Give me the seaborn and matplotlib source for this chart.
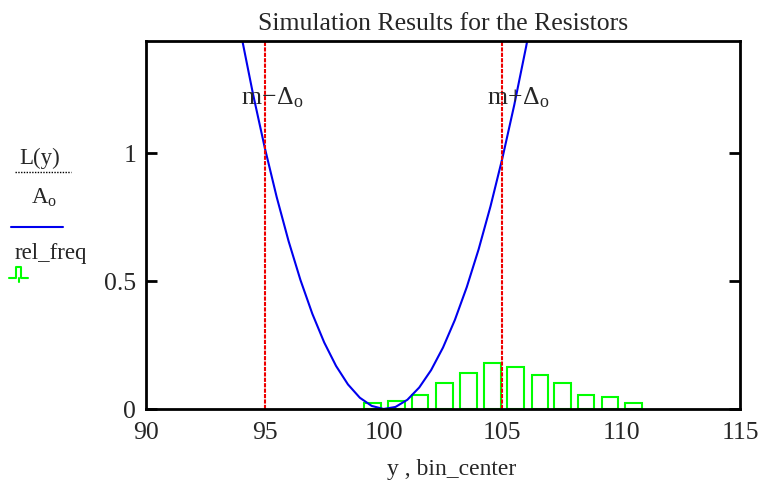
import matplotlib
matplotlib.use("Agg")
from matplotlib import pyplot as plt
from matplotlib.lines import Line2D
import numpy as np
import pandas as pd
import seaborn as sns

# curve L(y)/A_o
y_vals = [93.5, 94.0, 94.5, 95.0, 95.5, 96.0, 96.5, 97.0, 97.5, 98.0, 98.5, 99.0, 99.5,
          100.0, 100.5, 101.0, 101.5, 102.0, 102.5, 103.0, 103.5, 104.0, 104.5, 105.0,
          105.5, 106.0, 106.5]
L_over_A = [1.716, 1.464, 1.232, 1.020, 0.828, 0.656, 0.504, 0.372, 0.260, 0.168, 0.096,
            0.044, 0.012, 0.000, 0.008, 0.036, 0.084, 0.152, 0.240, 0.348, 0.476, 0.624,
            0.792, 0.980, 1.188, 1.416, 1.664]

# histogram of resistor values
bin_center = [99.54, 100.54, 101.53, 102.55, 103.56, 104.58, 105.56, 106.58, 107.52,
              108.52, 109.53, 110.53]
rel_freq = [0.024, 0.030, 0.053, 0.100, 0.139, 0.178, 0.163, 0.132, 0.100, 0.053,
            0.047, 0.024]

m_minus = 95.0
m_plus = 105.0
x_ticks = [90, 95, 100, 105, 110, 115]
y_ticks = [0, 0.5, 1]

FS = 18.5
LFS = 16.5

sns.set_style("white")
plt.rcParams['font.family'] = ['Liberation Serif', 'DejaVu Serif']
plt.rcParams['mathtext.fontset'] = 'custom'
plt.rcParams['mathtext.rm'] = 'Liberation Serif'
plt.rcParams['mathtext.it'] = 'Liberation Serif:italic'

fig = plt.figure(figsize=(7.62, 4.85), dpi=100)
ax = fig.add_axes([146 / 762, 75 / 485, 594 / 762, 368 / 485])

ax.bar(bin_center, rel_freq, width=0.7, fill=False, edgecolor='#00ff00', linewidth=1.5)
curve = pd.DataFrame({"y": y_vals, "L": L_over_A})
sns.lineplot(data=curve, x="y", y="L", ax=ax, color='#0000ee', linewidth=1.5)

for xv in (m_minus, m_plus):
    ax.axvline(xv, color='#ee0000', linewidth=1.5, linestyle=(0, (2, 0.6)))

ax.text(94.0, 1.22, r'$\mathregular{m\!-\!\Delta_o}$', fontsize=FS, va='center', ha='left')
ax.text(104.35, 1.22, r'$\mathregular{m\!+\!\Delta_o}$', fontsize=FS, va='center', ha='left')

ax.set_xlim(90, 115)
ax.set_ylim(0, 1.4375)
ax.set_xticks(x_ticks)
ax.set_xticklabels([str(t) for t in x_ticks])
ax.set_xticks([100, 110], minor=True)
ax.set_yticks(y_ticks)
ax.set_yticklabels(['0', '0.5', '1'])
ax.tick_params(axis='x', which='major', length=0, pad=9, labelsize=FS)
ax.tick_params(axis='x', which='minor', direction='in', length=14, width=2,
               top=True, bottom=True, color='black')
ax.tick_params(axis='y', which='major', direction='in', length=8, width=2,
               left=True, right=True, pad=7, labelsize=FS, color='black')
for sp in ax.spines.values():
    sp.set_color('black')
    sp.set_linewidth(2)

ax.set_xlabel('y , bin_center', fontsize=17)
ax.xaxis.set_label_coords((452 - 146) / 594, -(470 - 410) / 368)
ax.xaxis.label.set_va('center')
ax.set_ylabel('')
ax.set_title('Simulation Results for the Resistors', fontsize=FS, pad=9)

# legend area on the left, Mathcad style
fig.text(40 / 762, 1 - 158 / 485, 'L(y)', fontsize=LFS, ha='center', va='center')
fig.add_artist(Line2D([15 / 762, 71 / 762], [1 - 173 / 485, 1 - 173 / 485],
                      color='black', linewidth=1, linestyle=(0, (1, 1))))
fig.text(44 / 762, 1 - 198 / 485, r'A$_\mathregular{o}$', fontsize=LFS, ha='center', va='center')
fig.add_artist(Line2D([11 / 762, 63 / 762], [1 - 228 / 485, 1 - 228 / 485],
                      color='#0000ee', linewidth=1.5))
fig.text(15 / 762, 1 - 253 / 485, 'rel_freq', fontsize=LFS, ha='left', va='center')
fig.add_artist(Line2D([9 / 762, 16 / 762, 16 / 762, 21 / 762, 21 / 762, 28 / 762],
                      [1 - 279 / 485, 1 - 279 / 485, 1 - 268 / 485, 1 - 268 / 485,
                       1 - 279 / 485, 1 - 279 / 485], color='#00ff00', linewidth=1.5))
fig.add_artist(Line2D([19 / 762, 19 / 762], [1 - 279 / 485, 1 - 283 / 485],
                      color='#00ff00', linewidth=1.5))

fig.savefig("out.png", dpi=100)
